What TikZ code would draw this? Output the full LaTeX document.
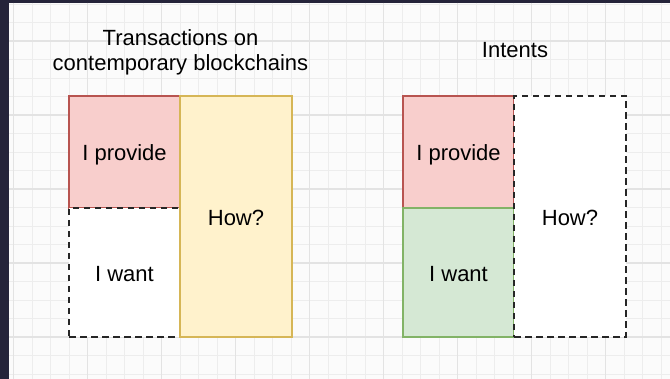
\documentclass[tikz,border=0pt]{standalone}
\usepackage{fontspec}
\setmainfont{Liberation Sans}
\usetikzlibrary{positioning}

\definecolor{redfill}{HTML}{F8CECC}
\definecolor{redline}{HTML}{B85450}
\definecolor{yellowfill}{HTML}{FFF2CC}
\definecolor{yellowline}{HTML}{D6B656}
\definecolor{greenfill}{HTML}{D5E8D4}
\definecolor{greenline}{HTML}{82B366}
\definecolor{frame}{HTML}{25243A}
\definecolor{sheet}{HTML}{FBFBFB}

\begin{document}
\begin{tikzpicture}[x=1pt,y=-1pt,
        every node/.style={inner sep=0pt,outer sep=0pt,line width=2pt,
            font=\fontsize{22}{25}\selectfont},
        minorline/.style={draw=black!7,line width=0.8pt},
        majorline/.style={draw=black!11,line width=1.1pt},
        cell/.style={text height=17.4pt,text depth=0pt},
        redbox/.style={cell,draw=redline,fill=redfill},
        yellowbox/.style={cell,draw=yellowline,fill=yellowfill},
        greenbox/.style={cell,draw=greenline,fill=greenfill},
        dashbox/.style={cell,draw=black!85,fill=white,dash pattern=on 6.5pt off 4.5pt}]

    \useasboundingbox (0,0) rectangle (670,379);
    \fill[frame] (0,0) rectangle (670,379);
    \fill[sheet] (9,3) rectangle (670,379);

    % grid
    \foreach \i in {0,...,35}
        \draw[minorline] ({13.5+18.5*\i},3) -- ({13.5+18.5*\i},379);
    \foreach \j in {0,...,20}
        \draw[minorline] (9,{4+18.5*\j}) -- (670,{4+18.5*\j});
    \foreach \i in {0,4,...,32}
        \draw[majorline] ({13.5+18.5*\i},3) -- ({13.5+18.5*\i},379);
    \foreach \j in {2,6,...,18}
        \draw[majorline] (9,{4+18.5*\j}) -- (670,{4+18.5*\j});

    % transactions
    \node[align=center] (titleL) at (180.5,52.5) {Transactions on\\contemporary blockchains};
    \node[redbox,minimum width=111pt,minimum height=112pt,anchor=north west] (provideL) at (69,96) {I provide};
    \node[dashbox,minimum width=111pt,minimum height=129pt,below=0pt of provideL] (wantL) {I want};
    \node[yellowbox,minimum width=112pt,minimum height=241pt,anchor=north west] (howL) at (provideL.north east) {How?};

    % intents
    \node[anchor=base] (titleR) at (515,58) {Intents};
    \node[redbox,minimum width=111pt,minimum height=112pt,anchor=north west] (provideR) at (403,96) {I provide};
    \node[greenbox,minimum width=111pt,minimum height=129pt,below=0pt of provideR] (wantR) {I want};
    \node[dashbox,minimum width=112pt,minimum height=241pt,anchor=north west] (howR) at (provideR.north east) {How?};
\end{tikzpicture}
\end{document}
